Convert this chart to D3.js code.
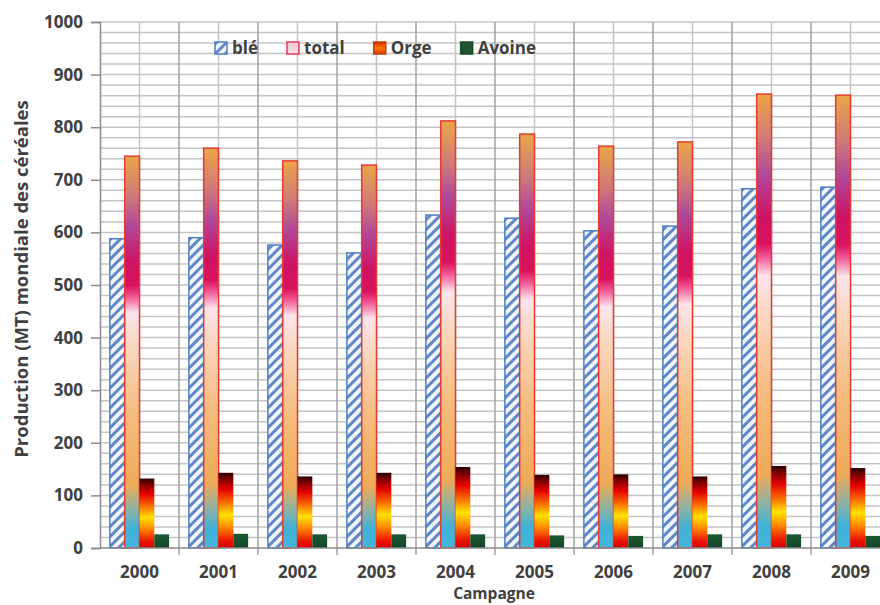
<!DOCTYPE html>
<html>
<head>
<meta charset="utf-8">
<script src="https://cdn.jsdelivr.net/npm/d3@7"></script>
<style>
  body { margin: 0; background: #fff; }
  text { font-family: "Open Sans", sans-serif; font-weight: 700; fill: #404040; }
</style>
</head>
<body>
<div id="chart"></div>
<script>
// data (MT)
var years   = ["2000", "2001", "2002", "2003", "2004", "2005", "2006", "2007", "2008", "2009"];
var ble     = [588, 590, 576, 561, 633, 627, 603, 612, 683, 686];
var total   = [745, 760, 736, 728, 812, 787, 764, 772, 863, 861];
var orge    = [132, 143, 136, 143, 154, 139, 140, 136, 156, 152];
var avoine  = [26, 27, 26, 26, 26, 24, 23, 26, 26, 23];
var seriesNames = ["blé", "total", "Orge", "Avoine"];
var yTicks  = [0, 100, 200, 300, 400, 500, 600, 700, 800, 900, 1000];

var width = 880, height = 605;
// plot runs past the right edge, like the cropped original
var mLeft = 100, mRight = 890, mTop = 22, mBottom = 548;

var svg = d3.select("#chart").append("svg")
    .attr("width", width)
    .attr("height", height);

var defs = svg.append("defs");

// hatched fill for blé
var hatch = defs.append("pattern")
    .attr("id", "hatch")
    .attr("patternUnits", "userSpaceOnUse")
    .attr("width", 7).attr("height", 7)
    .attr("patternTransform", "rotate(45)");
hatch.append("rect").attr("width", 7).attr("height", 7).attr("fill", "#f3f7fd");
hatch.append("rect").attr("width", 3).attr("height", 7).attr("fill", "#6088c6");

// gradient helper (top -> bottom, relative to bar)
function addGradient(id, stops) {
    var g = defs.append("linearGradient")
        .attr("id", id)
        .attr("x1", 0).attr("y1", 0).attr("x2", 0).attr("y2", 1);
    stops.forEach(function (s) {
        g.append("stop").attr("offset", s[0]).attr("stop-color", s[1]);
    });
}
addGradient("gTotal", [
    [0.00, "#eaa548"], [0.10, "#cf7a78"], [0.18, "#b0489a"], [0.27, "#cf1263"],
    [0.33, "#d9125e"], [0.36, "#f25a98"], [0.40, "#fbe4ec"], [0.48, "#f9d8c2"],
    [0.65, "#f5bd80"], [0.84, "#eeaa58"], [0.90, "#8fb2a2"], [0.95, "#3fb2d8"],
    [1.00, "#44b6de"]
]);
addGradient("gOrge", [
    [0.00, "#2a0000"], [0.08, "#7a0000"], [0.22, "#e60000"], [0.40, "#fa7000"],
    [0.56, "#ffe200"], [0.72, "#ff8a00"], [0.90, "#ea1500"], [1.00, "#d80000"]
]);
addGradient("gAvoine", [[0, "#1c5a32"], [1, "#14452a"]]);
addGradient("gOrgeKey", [[0, "#e02000"], [0.5, "#f87a00"], [1, "#e03000"]]);
addGradient("gTotalKey", [[0, "#f7c6cf"], [1, "#fbe2e6"]]);

var fills   = ["url(#hatch)", "url(#gTotal)", "url(#gOrge)", "url(#gAvoine)"];
var strokes = ["#4f7fc0", "#e43a32", "none", "none"];

// scales
var x0 = d3.scaleBand().domain(years).range([mLeft, mRight])
    .paddingInner(0.25).paddingOuter(0.125);
var x1 = d3.scaleBand().domain(seriesNames).range([0, x0.bandwidth()]);
var y = d3.scaleLinear().domain([0, 1000]).range([mBottom, mTop]);

// horizontal grid every 20
svg.append("g")
    .selectAll("line")
    .data(d3.range(20, 1001, 20))
    .enter().append("line")
    .attr("x1", mLeft).attr("x2", mRight)
    .attr("y1", function (d) { return y(d); })
    .attr("y2", function (d) { return y(d); })
    .attr("stroke", "#c4c4c4").attr("stroke-width", 1.5);

// vertical grid: light at centres, darker at boundaries
var step = x0.step();
svg.append("g")
    .selectAll("line")
    .data(years)
    .enter().append("line")
    .attr("x1", function (d) { return x0(d) - x0.paddingOuter() * step + step / 2; })
    .attr("x2", function (d) { return x0(d) - x0.paddingOuter() * step + step / 2; })
    .attr("y1", mTop).attr("y2", mBottom)
    .attr("stroke", "#c4c4c4").attr("stroke-width", 1.5);
svg.append("g")
    .selectAll("line")
    .data(years.slice(1))
    .enter().append("line")
    .attr("x1", function (d) { return x0(d) - x0.paddingOuter() * step; })
    .attr("x2", function (d) { return x0(d) - x0.paddingOuter() * step; })
    .attr("y1", mTop).attr("y2", mBottom + 7)
    .attr("stroke", "#a0a0a0").attr("stroke-width", 1.5);

// bars
var series = [ble, total, orge, avoine];
var groups = svg.append("g").selectAll("g")
    .data(years)
    .enter().append("g")
    .attr("transform", function (d) { return "translate(" + x0(d) + ",0)"; });

groups.selectAll("rect")
    .data(function (d, i) {
        return seriesNames.map(function (name, k) { return {name: name, k: k, value: series[k][i]}; });
    })
    .enter().append("rect")
    .attr("x", function (d) { return x1(d.name); })
    .attr("width", x1.bandwidth())
    .attr("y", function (d) { return y(d.value); })
    .attr("height", function (d) { return y(0) - y(d.value); })
    .attr("fill", function (d) { return fills[d.k]; })
    .attr("stroke", function (d) { return strokes[d.k]; })
    .attr("stroke-width", 1.5);

// y axis
var yAxis = svg.append("g")
    .attr("transform", "translate(" + mLeft + ",0)")
    .call(d3.axisLeft(y).tickValues(yTicks).tickFormat(d3.format("d")).tickSize(9).tickPadding(8));
yAxis.select(".domain").attr("stroke", "#8a8a8a").attr("stroke-width", 1.5);
yAxis.selectAll(".tick line").attr("stroke", "#8a8a8a").attr("stroke-width", 1.5);
yAxis.selectAll(".tick text").style("font-size", "17px").style("font-family", "Open Sans")
    .style("font-weight", 700).attr("fill", "#404040");

// x axis
svg.append("line")
    .attr("x1", mLeft).attr("x2", mRight)
    .attr("y1", mBottom).attr("y2", mBottom)
    .attr("stroke", "#8a8a8a").attr("stroke-width", 1.5);
svg.append("g").selectAll("text")
    .data(years)
    .enter().append("text")
    .attr("x", function (d) { return x0(d) + x0.bandwidth() / 2; })
    .attr("y", 578)
    .attr("text-anchor", "middle")
    .style("font-size", "17px")
    .text(function (d) { return d; });

// axis titles
svg.append("text")
    .attr("x", 494).attr("y", 599)
    .attr("text-anchor", "middle")
    .style("font-size", "15.5px")
    .text("Campagne");
svg.append("text")
    .attr("transform", "translate(28," + 279 + ") rotate(-90)")
    .attr("text-anchor", "middle")
    .style("font-size", "18.5px")
    .text("Production (MT) mondiale des céréales");

// legend
var keyFills = ["url(#hatch)", "url(#gTotalKey)", "url(#gOrgeKey)", "#1d5531"];
var keyStrokes = ["#4f7fc0", "#e43a5a", "#c04000", "#184a2a"];
var legend = svg.append("g").attr("transform", "translate(215,42)");
var lx = 0;
seriesNames.forEach(function (name, k) {
    var item = legend.append("g").attr("transform", "translate(" + lx + ",0)");
    item.append("rect")
        .attr("width", 12).attr("height", 12)
        .attr("fill", keyFills[k]).attr("stroke", keyStrokes[k]).attr("stroke-width", 1.5);
    var t = item.append("text")
        .attr("x", 17).attr("y", 12)
        .style("font-size", "17px")
        .text(name);
    lx += 17 + t.node().getComputedTextLength() + 29;
});
</script>
</body>
</html>
